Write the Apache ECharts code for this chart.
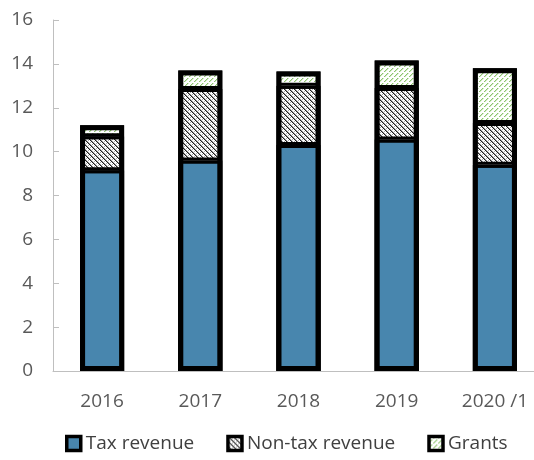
<!DOCTYPE html>
<html>
<head>
<meta charset="utf-8">
<script src="https://cdn.jsdelivr.net/npm/echarts@6/dist/echarts.min.js"></script>
<style>
  html, body { margin: 0; padding: 0; background: #fff; }
  #chart { width: 534px; height: 460px; }
</style>
</head>
<body>
<div id="chart"></div>
<script>
// Revenue composition by year (stacked)
const years = ['2016', '2017', '2018', '2019', '2020 /1'];
const taxRevenue = [9.15, 9.6, 10.3, 10.55, 9.4];
const nonTaxRevenue = [1.55, 3.25, 2.7, 2.35, 1.9];
const grants = [0.5, 0.85, 0.65, 1.25, 2.5];
const yTicks = { min: 0, max: 16, interval: 2 };

// Cumulative levels, used to re-trace the black frames on top of the fills
const taxPlusNonTax = years.map((_, i) => taxRevenue[i] + nonTaxRevenue[i]);
const totals = years.map((_, i) => taxPlusNonTax[i] + grants[i]);

// Small tiled hatch patterns for the bar fills
function makeTile(size, paint) {
  const c = document.createElement('canvas');
  c.width = size; c.height = size;
  const ctx = c.getContext('2d');
  const img = ctx.createImageData(size, size);
  for (let y = 0; y < size; y++) {
    for (let x = 0; x < size; x++) {
      const rgba = paint(x, y);
      const i = (y * size + x) * 4;
      img.data[i] = rgba[0]; img.data[i + 1] = rgba[1];
      img.data[i + 2] = rgba[2]; img.data[i + 3] = rgba[3];
    }
  }
  ctx.putImageData(img, 0, 0);
  return c;
}

// Downward diagonal black hatch with dots
const nonTaxTile = makeTile(10, (x, y) => {
  const d = ((x - y) % 5 + 5) % 5;
  if (d === 0) return [30, 30, 30, 255];
  if (d === 1) return [150, 150, 150, 255];
  if (d === 3 && (x % 2 === 0)) return [170, 170, 170, 255];
  return [255, 255, 255, 255];
});

// Upward diagonal light-green dashed hatch
const grantsTile = makeTile(10, (x, y) => {
  const d = (x + y) % 5;
  if (d === 0 && (y % 5) !== 2) return [140, 196, 110, 255];
  if (d === 1 && (y % 5) !== 2) return [210, 234, 196, 255];
  return [255, 255, 255, 255];
});

const BAR_W = 44;
const segBorder = { borderColor: '#000', borderWidth: 3 };

// Transparent bar that only draws a black frame
function frame(data, width) {
  return {
    type: 'bar', barWidth: BAR_W, barGap: '-100%', silent: true, z: 3,
    itemStyle: { color: 'rgba(0,0,0,0)', borderColor: '#000', borderWidth: width },
    data: data
  };
}

const chart = echarts.init(document.getElementById('chart'), null, { renderer: 'canvas' });
chart.setOption({
  animation: false,
  backgroundColor: '#fff',
  grid: { left: 53, right: -10, top: 20, bottom: 89, containLabel: false, outerBoundsMode: 'none' },
  legend: {
    bottom: 2,
    left: 60,
    itemWidth: 14,
    itemHeight: 14,
    itemGap: 32,
    icon: 'rect',
    itemStyle: { borderColor: '#000', borderWidth: 3.5 },
    textStyle: { fontFamily: 'Open Sans', fontSize: 19, color: '#404040' },
    data: ['Tax revenue', 'Non-tax revenue', 'Grants']
  },
  xAxis: {
    type: 'category',
    data: years,
    boundaryGap: true,
    axisLine: { lineStyle: { color: '#bfbfbf', width: 1 } },
    axisTick: { inside: true, length: 7, interval: 0, lineStyle: { color: '#bfbfbf' } },
    axisLabel: { margin: 21, fontFamily: 'Open Sans', fontSize: 19, color: '#595959', interval: 0 }
  },
  yAxis: {
    type: 'value',
    min: yTicks.min,
    max: yTicks.max,
    interval: yTicks.interval,
    axisLine: { show: true, lineStyle: { color: '#bfbfbf', width: 1 } },
    axisTick: { show: true, inside: true, length: 6, lineStyle: { color: '#bfbfbf' } },
    splitLine: { show: false },
    axisLabel: { margin: 20, fontFamily: 'Open Sans', fontSize: 19, color: '#595959' }
  },
  series: [
    {
      name: 'Tax revenue', type: 'bar', stack: 'total', barWidth: BAR_W,
      itemStyle: Object.assign({ color: '#4886ae' }, segBorder),
      data: taxRevenue
    },
    {
      name: 'Non-tax revenue', type: 'bar', stack: 'total', barWidth: BAR_W,
      itemStyle: Object.assign({ color: { image: nonTaxTile, repeat: 'repeat' } }, segBorder),
      data: nonTaxRevenue
    },
    {
      name: 'Grants', type: 'bar', stack: 'total', barWidth: BAR_W,
      itemStyle: Object.assign({ color: { image: grantsTile, repeat: 'repeat' } }, segBorder),
      data: grants
    },
    frame(taxRevenue, 3),
    frame(taxPlusNonTax, 3),
    frame(totals, 5)
  ]
});
</script>
</body>
</html>
